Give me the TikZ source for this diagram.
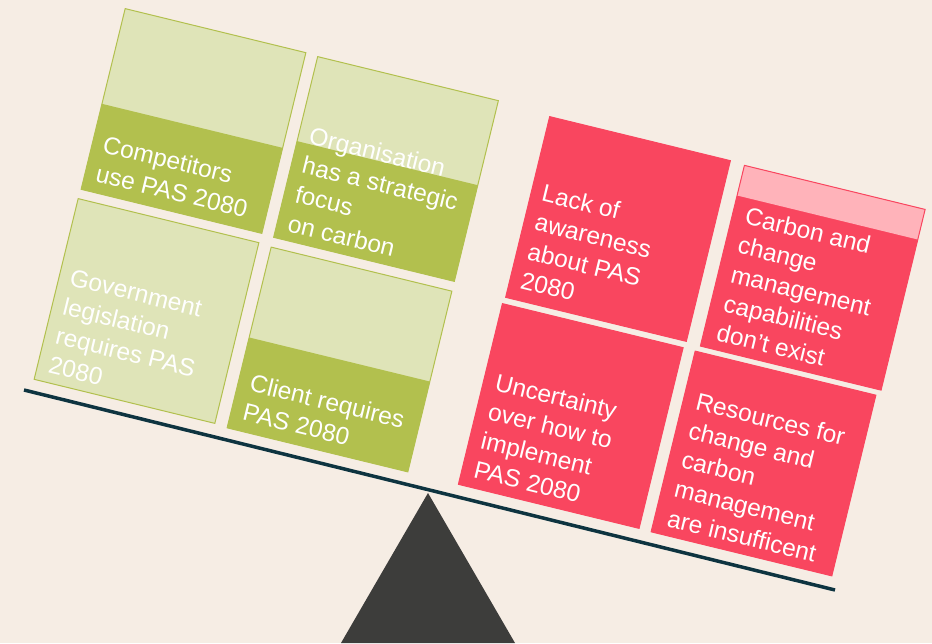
\documentclass[tikz,border=0pt]{standalone}
\usepackage{fontspec}
\setmainfont{Liberation Sans}
\usetikzlibrary{positioning}
\usepackage{xcolor}
\definecolor{bgbeige}{HTML}{F6EDE4}
\definecolor{leafdark}{HTML}{B2C04E}
\definecolor{leaflight}{HTML}{DFE4B8}
\definecolor{riskred}{HTML}{F9465F}
\definecolor{riskpink}{HTML}{FFB3BA}
\definecolor{beamteal}{HTML}{0E3440}
\definecolor{pivotgrey}{HTML}{3D3D3B}

\begin{document}
\begin{tikzpicture}[x=1pt,y=1pt]
        \tikzstyle{panel} = [rectangle, minimum size=186pt, inner sep=0pt, line width=1pt, transform shape]
        \tikzstyle{blurb} = [text=white, font=\fontsize{24.5}{30}\selectfont, align=left, anchor=north west, inner sep=0pt, transform shape]

        \useasboundingbox (0,0) rectangle (932,643);
        \fill[bgbeige] (0,0) rectangle (932,643);

        % drivers
        \begin{scope}[shift={(193.5,522)}, rotate=-13.7]
          \fill[leaflight] (-93,-93) rectangle (93,93);
          \fill[leafdark] (-93,-93) rectangle (93,-5);
          \node[panel, draw=leafdark] (competitors) at (0,0) {};
          \node[blurb] (competitorstxt) at (-82,-34) {Competitors\\use PAS 2080};
        \end{scope}
        \begin{scope}[shift={(386,474)}, rotate=-13.7]
          \fill[leaflight] (-93,-93) rectangle (93,93);
          \fill[leafdark] (-93,-93) rectangle (93,6);
          \node[panel, draw=leafdark] (strategy) at (0,0) {};
          \node[blurb] (strategytxt) at (-82,24) {Organisation\\has a strategic\\focus\\on carbon};
        \end{scope}
        \begin{scope}[shift={(146.5,332)}, rotate=-13.7]
          \fill[leaflight] (-93,-93) rectangle (93,93);
          \node[panel, draw=leafdark] (legislation) at (0,0) {};
          \node[blurb] (legislationtxt) at (-82,24) {Government\\legislation\\requires PAS\\2080};
        \end{scope}
        \begin{scope}[shift={(339.5,283.5)}, rotate=-13.7]
          \fill[leaflight] (-93,-93) rectangle (93,93);
          \fill[leafdark] (-93,-93) rectangle (93,0);
          \node[panel, draw=leafdark] (client) at (0,0) {};
          \node[blurb] (clienttxt) at (-81,-34) {Client requires\\PAS 2080};
        \end{scope}

        % barriers
        \begin{scope}[shift={(618,414)}, rotate=-13.7]
          \node[panel, draw=riskred, fill=riskred] (awareness) at (0,0) {};
          \node[blurb] (awarenesstxt) at (-82,27) {Lack of\\awareness\\about PAS\\2080};
        \end{scope}
        \begin{scope}[shift={(812.75,365.25)}, rotate=-13.7]
          \fill[riskred] (-93,-93) rectangle (93,93);
          \fill[riskpink] (-93,62) rectangle (93,93);
          \node[panel, draw=riskred] (capability) at (0,0) {};
          \node[blurb] (capabilitytxt) at (-80,54) {Carbon and\\change\\management\\capabilities\\don’t exist};
        \end{scope}
        \begin{scope}[shift={(570.75,227)}, rotate=-13.7]
          \node[panel, draw=riskred, fill=riskred] (uncertainty) at (0,0) {};
          \node[blurb] (uncertaintytxt) at (-81,25) {Uncertainty\\over how to\\implement\\PAS 2080};
        \end{scope}
        \begin{scope}[shift={(763.5,179.5)}, rotate=-13.7]
          \node[panel, draw=riskred, fill=riskred] (resources) at (0,0) {};
          \node[blurb] (resourcestxt) at (-80,54) {Resources for\\change and\\carbon\\management\\are insufficent};
        \end{scope}

        % balance
        \fill[pivotgrey] (341,0) -- (428,150) -- (515,0) -- cycle;
        \coordinate (beamleft) at (24,253);
        \coordinate (beamright) at (835,53);
        \draw[beamteal, line width=3.5pt] (beamleft) -- (beamright);
\end{tikzpicture}
\end{document}
